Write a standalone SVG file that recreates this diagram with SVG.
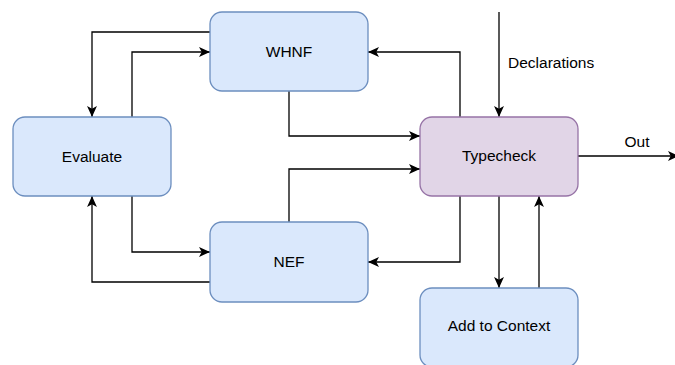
<svg xmlns="http://www.w3.org/2000/svg" width="675" height="365" viewBox="0 0 675 365">
<defs>
<style>
.b{fill:#dae8fc;stroke:#6c8ebf;stroke-width:1.3}
.p{fill:#e1d5e7;stroke:#9673a6;stroke-width:1.3}
.t{font-family:"Liberation Sans",Arial,sans-serif;font-size:15.5px;fill:#000;text-anchor:middle}
.l{font-family:"Liberation Sans",Arial,sans-serif;font-size:15.5px;fill:#000}
.c{fill:none;stroke:#000;stroke-width:1.3;marker-end:url(#a)}
</style>
<marker id="a" viewBox="0 0 10 10" refX="10" refY="5" markerWidth="11" markerHeight="11" markerUnits="userSpaceOnUse" orient="auto">
<path d="M0,0.5 L10,5 L0,9.5 L2.5,5 Z" fill="#000"/>
</marker>
</defs>
<rect width="675" height="365" fill="#fff"/>
<g id="connectors">
<path class="c" d="M210,32 H92 V117"/>
<path class="c" d="M132,117 V52 H210"/>
<path class="c" d="M132,196 V252 H210"/>
<path class="c" d="M210,282 H92 V196"/>
<path class="c" d="M289,90 V136 H420"/>
<path class="c" d="M289,222 V169 H420"/>
<path class="c" d="M460,117 V52 H368"/>
<path class="c" d="M460,196 V262 H368"/>
<path class="c" d="M499,12 V117"/>
<path class="c" d="M578,156 H679"/>
<path class="c" d="M499,196 V288"/>
<path class="c" d="M539,288 V196"/>
<text class="l" x="508" y="68">Declarations</text>
<text class="t" x="637" y="147">Out</text>
</g>
<g id="whnf"><rect class="b" x="210" y="12" width="158" height="79" rx="12"/><text class="t" x="289" y="57">WHNF</text></g>
<g id="evaluate"><rect class="b" x="13" y="117" width="158" height="79" rx="12"/><text class="t" x="92" y="162">Evaluate</text></g>
<g id="nef"><rect class="b" x="210" y="222" width="158" height="80" rx="12"/><text class="t" x="289" y="267">NEF</text></g>
<g id="typecheck"><rect class="p" x="420" y="117" width="158" height="79" rx="12"/><text class="t" x="499" y="161">Typecheck</text></g>
<g id="addctx"><rect class="b" x="420" y="288" width="158" height="79" rx="12"/><text class="t" x="499" y="331">Add to Context</text></g>
</svg>
